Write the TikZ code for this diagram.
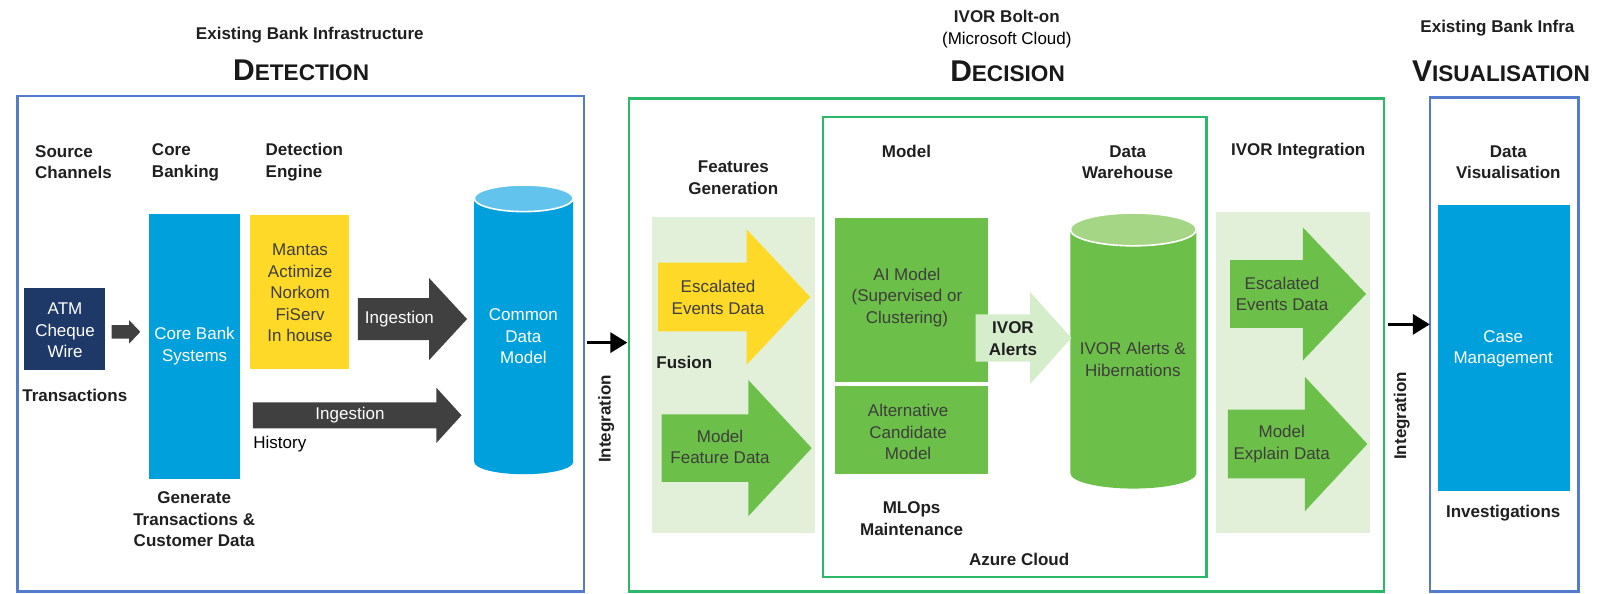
\documentclass[tikz,border=0pt]{standalone}
\usepackage{fontspec}
\setmainfont{Liberation Sans}
\usetikzlibrary{arrows.meta}
\definecolor{navy}{RGB}{30,56,104}
\definecolor{cblue}{RGB}{0,160,220}
\definecolor{cbluetop}{RGB}{98,196,236}
\definecolor{cyel}{RGB}{255,217,40}
\definecolor{dgray}{RGB}{64,64,64}
\definecolor{cgreen}{RGB}{108,192,74}
\definecolor{cgreentop}{RGB}{164,214,134}
\definecolor{lgreen}{RGB}{226,240,217}
\definecolor{lgreenarr}{RGB}{214,237,203}
\definecolor{bborder}{RGB}{84,124,204}
\definecolor{gborder}{RGB}{44,184,104}
\definecolor{txtg}{RGB}{62,62,58}
\newcommand\hdrtxt[2]{{\fontsize{15}{15}\selectfont #1}{\fontsize{11.3}{11.3}\selectfont #2}}
% fill, x0, x1, yc, shaft half, head half, head base
\newcommand\blockarrow[7]{%
  \fill[#1] (#2,#4-#5) -- (#7,#4-#5) -- (#7,#4-#6) -- (#3,#4) -- (#7,#4+#6) -- (#7,#4+#5) -- (#2,#4+#5) -- cycle;}
\begin{document}
\begin{tikzpicture}[x=0.5121pt,y=-0.5121pt,
  lbl/.style={font=\bfseries\fontsize{8.5}{10.75}\selectfont, text=black!88, align=center, inner sep=0pt},
  lblL/.style={lbl, align=left},
  txt/.style={font=\fontsize{8.5}{10.75}\selectfont, align=center, inner sep=0pt},
  wtxt/.style={txt, text=white},
  gtxt/.style={txt, text=txtg},
  hdr/.style={font=\bfseries, text=black!90, inner sep=0pt},
  bframe/.style={draw=bborder, line width=1.2pt},
  gframe/.style={draw=gborder, line width=1.2pt},
  integ/.style={-{Triangle[length=8.5pt,width=10pt]}, line width=1.6pt, black}]
\useasboundingbox (0,0) rectangle (1568,579);

% ---------- headers ----------
\node[lbl] (hd1) at (302.5,34) {Existing Bank Infrastructure};
\node[hdr] (det) at (294,69) {\hdrtxt{D}{ETECTION}};
\node[lbl] (hd2a) at (983,16.3) {IVOR Bolt-on};
\node[txt] (hd2b) at (983,39) {(Microsoft Cloud)};
\node[hdr] (dec) at (983.7,69.3) {\hdrtxt{D}{ECISION}};
\node[lbl] (hd3) at (1462,27.7) {Existing Bank Infra};
\node[hdr] (vis) at (1465.4,69.3) {\hdrtxt{V}{ISUALISATION}};

% ---------- frames ----------
\draw[bframe] (17,94) rectangle (570,577.5);
\draw[gframe] (614,96) rectangle (1351,577.5);
\draw[gframe] (803.6,114) rectangle (1178,563.5);
\draw[bframe] (1396,95) rectangle (1541,577.5);

% ---------- DETECTION ----------
\node[lblL, anchor=west] (srcch) at (34,158.5) {Source\\Channels};
\node[lblL, anchor=west] (corebk) at (148,158.5) {Core\\Banking};
\node[lblL, anchor=west] (deteng) at (259,158.5) {Detection\\Engine};

\fill[navy] (23.7,281) rectangle (103,361);
\node[wtxt] (atm) at (63.5,322.5) {ATM\\Cheque\\Wire};
\node[lbl] (trans) at (73,386) {Transactions};

\blockarrow{dgray}{109}{137}{324}{6.5}{11.5}{126}

\fill[cblue] (145.3,209) rectangle (234.7,468);
\node[wtxt] (cbs) at (190,338) {Core Bank\\Systems};
\node[lbl] (gen) at (189.6,507) {Generate\\Transactions \&\\Customer Data};

\fill[cyel] (244,210) rectangle (341,360);
\node[gtxt] (eng) at (293,286) {Mantas\\Actimize\\Norkom\\FiServ\\In house};

\blockarrow{dgray}{349.5}{456}{311.5}{20.5}{40}{419}
\node[txt, text=white] (ing1) at (390,312) {Ingestion};
\blockarrow{dgray}{247}{450.6}{405.5}{12.7}{27}{426}
\node[txt, text=white] (ing2) at (341.7,405) {Ingestion};
\node[txt, anchor=west] (hist) at (247,433.5) {History};

\fill[cblue] (463,193.6) -- (463,451) arc[start angle=180,end angle=0,x radius=48.3,y radius=12] -- (559.6,193.6) -- cycle;
\fill[cbluetop, draw=white, line width=0.8pt] (511.3,193.6) ellipse [x radius=48.3, y radius=13];
\node[wtxt] (cdm) at (511,328.5) {Common\\Data\\Model};

% ---------- integration left ----------
\coordinate (i1s) at (573,334.5);
\coordinate (i1e) at (612.5,334.5);
\draw[integ] (i1s) -- (i1e);
\node[lbl, rotate=90] (integ1) at (592,409) {Integration};

% ---------- DECISION ----------
\node[lbl] (featgen) at (716,173.5) {Features\\Generation};
\fill[lgreen] (637,211.6) rectangle (796,520.6);
\blockarrow{cyel}{642.5}{791}{290}{33.5}{66}{729}
\node[gtxt] (esc1) at (701,290.5) {Escalated\\Events Data};
\node[lbl, anchor=west] (fusion) at (640.5,354) {Fusion};
\blockarrow{cgreen}{646}{792.5}{437.5}{33}{66.5}{730.6}
\node[gtxt] (mfd) at (703,436.5) {Model\\Feature Data};

\node[lbl] (model) at (885,147.5) {Model};
\fill[cgreen] (815,213) rectangle (965,372.7);
\node[gtxt] (aim) at (885.5,290.3) {AI Model\\(Supervised or\\Clustering)};
\fill[cgreen] (815,377) rectangle (965,463);
\node[gtxt] (alt) at (886.6,421.8) {Alternative\\Candidate\\Model};
\node[lbl] (mlops) at (890,506.3) {MLOps\\Maintenance};
\node[lbl] (azure) at (995,546) {Azure Cloud};

\node[lbl] (dw) at (1101,158.3) {Data\\Warehouse};
\fill[cgreen] (1045,224) -- (1045,462) arc[start angle=180,end angle=0,x radius=61.5,y radius=15] -- (1168,224) -- cycle;
\fill[cgreentop, draw=white, line width=0.8pt] (1106.5,224) ellipse [x radius=61.5, y radius=16];
\node[gtxt] (alerts) at (1106,350.8) {IVOR Alerts \&\\Hibernations};

\blockarrow{lgreenarr}{952.6}{1046}{330}{23}{45}{1005.7}
\node[lbl] (ivoral) at (989,330.5) {IVOR\\Alerts};

\node[lbl] (ivorint) at (1267.5,148) {IVOR Integration};
\fill[lgreen] (1187,206.7) rectangle (1338,520);
\blockarrow{cgreen}{1201}{1333.7}{287}{33}{65}{1272}
\node[gtxt] (esc2) at (1251.7,287.2) {Escalated\\Events Data};
\blockarrow{cgreen}{1198.7}{1335}{433.5}{33.5}{65.6}{1274}
\node[gtxt] (med) at (1251.4,433.5) {Model\\Explain Data};

% ---------- integration right ----------
\coordinate (i2s) at (1355,316.7);
\coordinate (i2e) at (1396,316.7);
\draw[integ] (i2s) -- (i2e);
\node[lbl, rotate=90] (integ2) at (1368.5,406) {Integration};

% ---------- VISUALISATION ----------
\node[lbl] (dv) at (1472.6,158.5) {Data\\Visualisation};
\fill[cblue] (1403.7,200) rectangle (1533,479.4);
\node[wtxt] (case) at (1467.6,340.8) {Case\\Management};
\node[lbl] (inv) at (1467.6,501) {Investigations};
\end{tikzpicture}
\end{document}
